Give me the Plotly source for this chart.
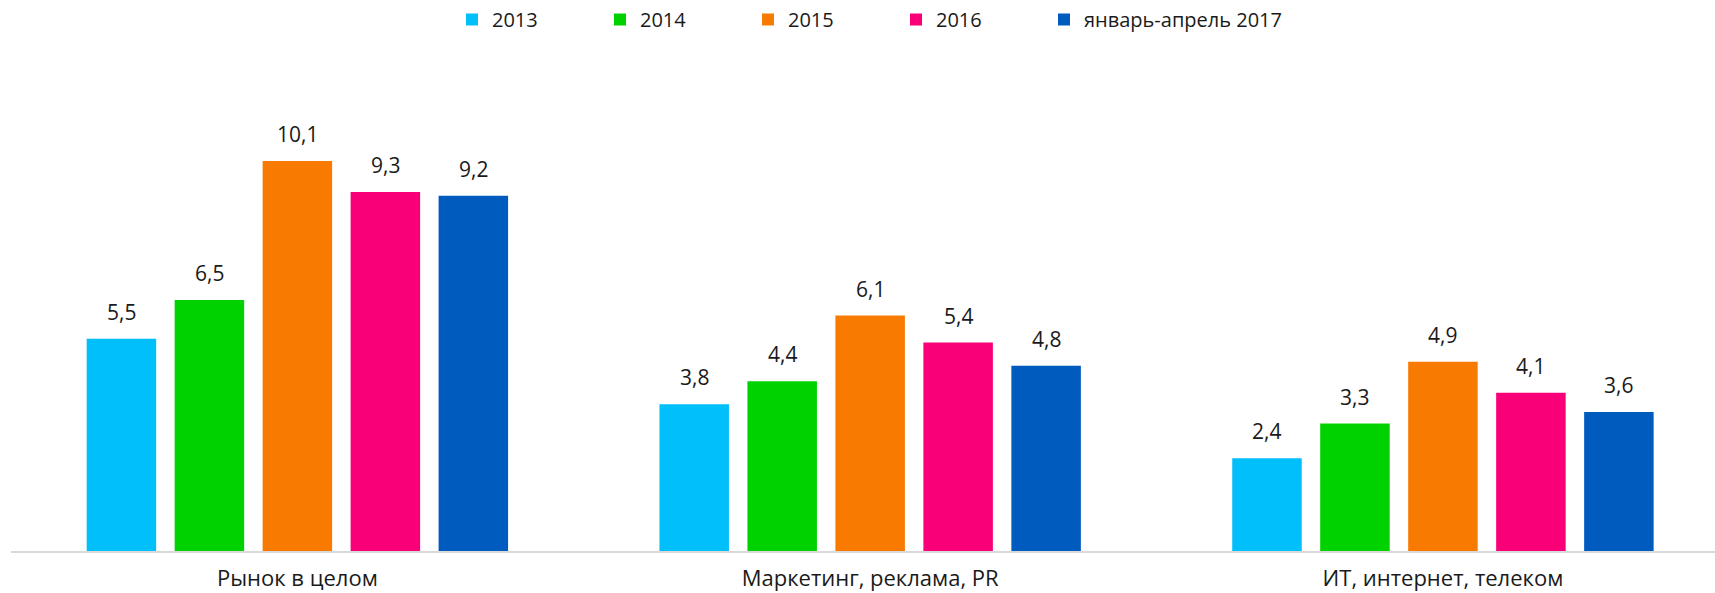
import plotly.graph_objects as go

categories = ["Рынок в целом", "Маркетинг, реклама, PR", "ИТ, интернет, телеком"]
series_names = ["2013", "2014", "2015", "2016", "январь-апрель 2017"]
values_2013 = [5.5, 3.8, 2.4]
values_2014 = [6.5, 4.4, 3.3]
values_2015 = [10.1, 6.1, 4.9]
values_2016 = [9.3, 5.4, 4.1]
values_2017 = [9.2, 4.8, 3.6]
series_values = [values_2013, values_2014, values_2015, values_2016, values_2017]
colors = ["#00BFFA", "#00D200", "#F87A00", "#FA0078", "#005BBE"]

FONT = "Open Sans, Liberation Sans, Arial, sans-serif"
W, H = 1715, 593
ML, MR, MT, MB = 11, 0, 80, 42
BARGAP = 0.232
XRANGE = [-0.5, 2.475]

fig = go.Figure()
for idx, (name, vals, col) in enumerate(zip(series_names, series_values, colors)):
    fig.add_trace(go.Bar(
        x=categories, y=vals, name=name,
        marker=dict(color=col, line=dict(width=0)),
        hoverinfo="skip",
        legendwidth=230 if idx == len(series_names) - 1 else 103,
    ))

# value labels above bars
plot_w = W - ML - MR
cat_px = plot_w / (XRANGE[1] - XRANGE[0])
slot_px = cat_px * (1 - BARGAP) / len(series_names)
n = len(series_names)
for i, vals in enumerate(series_values):
    for cat, v in zip(categories, vals):
        fig.add_annotation(
            x=cat, y=v, xref="x", yref="y",
            text=f"{v:.1f}".replace(".", ","),
            showarrow=False, yanchor="bottom",
            xshift=(i - (n - 1) / 2) * slot_px, yshift=11,
            font=dict(family=FONT, size=21, color="#1a1a1a"),
        )

fig.update_layout(
    width=W, height=H,
    margin=dict(l=ML, r=MR, t=MT, b=MB, autoexpand=False),
    paper_bgcolor="white", plot_bgcolor="white",
    barmode="group", bargap=BARGAP, bargroupgap=0.21,
    showlegend=True,
    legend=dict(
        orientation="h", xref="container", yref="container",
        x=452 / W, xanchor="left", y=1.0, yanchor="top",
        font=dict(family=FONT, size=20, color="#1a1a1a"),
        bgcolor="rgba(0,0,0,0)",
    ),
    font=dict(family=FONT, color="#1a1a1a"),
    xaxis=dict(
        range=XRANGE, showgrid=False, zeroline=False,
        showline=True, linecolor="#d9d9d9", linewidth=1.5,
        ticks="outside", ticklen=7, tickcolor="rgba(0,0,0,0)",
        tickfont=dict(family=FONT, size=22, color="#1a1a1a"),
        automargin=False, fixedrange=True,
    ),
    yaxis=dict(
        range=[0, 12.2], showgrid=False, zeroline=False,
        showline=False, showticklabels=False, ticks="",
        automargin=False, fixedrange=True,
    ),
)

fig.write_html(
    "out.html",
    config={"displayModeBar": False},
    post_script="document.body.style.margin='0';document.body.style.overflow='hidden';",
)
